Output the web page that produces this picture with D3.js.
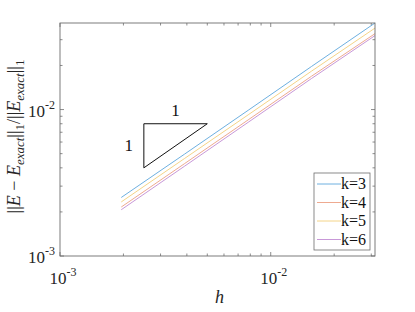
<!DOCTYPE html>
<html>
<head>
<meta charset="utf-8">
<script src="https://cdn.jsdelivr.net/npm/d3@7"></script>
</head>
<body style="margin:0; background:#fff">
<div id="my_dataviz"></div>
<script>
// data
var hValues = [1/512, 1/256, 1/128, 1/64, 1/32];
var seriesNames = ["k=3", "k=4", "k=5", "k=6"];
var errK3 = [0.00251, 0.00497, 0.00988, 0.0197, 0.0390];
var errK4 = [0.00216, 0.00428, 0.00850, 0.0169, 0.0330];
var errK5 = [0.00234, 0.00464, 0.00920, 0.0183, 0.0360];
var errK6 = [0.00207, 0.00411, 0.00818, 0.0163, 0.0320];
var seriesColors = ["#6eb0e0", "#eeaa90", "#f4d488", "#c898d8"];
var triH = [0.0025, 0.005];
var triE = [0.004, 0.008];
var xTicks = [1e-3, 1e-2];
var yTicks = [1e-3, 1e-2];

var series = [errK3, errK4, errK5, errK6];
var serif = "Liberation Serif";

// dimensions
var margin = {top: 23, right: 40, bottom: 56, left: 60},
  width = 415 - margin.left - margin.right,
  height = 312 - margin.top - margin.bottom;

var svg = d3.select("#my_dataviz")
.append("svg")
  .attr("width", 415)
  .attr("height", 312)
.append("g")
  .attr("transform", "translate(" + margin.left + "," + margin.top + ")");

var x = d3.scaleLog()
  .domain([1e-3, 1/32])
  .range([0, width]);
var y = d3.scaleLog()
  .domain([1e-3, 0.0390])
  .range([height, 0]);

var axisColor = "#6e6e6e";

// minor + major ticks, drawn inward on all four sides
var xMinor = [], yMinor = [];
[1e-3, 1e-2].forEach(function(dec) {
  for (var m = 1; m <= 9; m++) {
    var v = dec * m;
    if (v >= x.domain()[0] && v <= x.domain()[1] * 1.0001) xMinor.push(v);
    if (v >= y.domain()[0] && v <= y.domain()[1] * 1.0001) yMinor.push(v);
  }
});

var ticks = svg.append("g").attr("stroke", axisColor).attr("stroke-width", 0.8);
xMinor.forEach(function(v) {
  var len = xTicks.indexOf(v) >= 0 ? 4 : 2.5;
  ticks.append("line").attr("x1", x(v)).attr("x2", x(v)).attr("y1", height).attr("y2", height - len);
  ticks.append("line").attr("x1", x(v)).attr("x2", x(v)).attr("y1", 0).attr("y2", len);
});
yMinor.forEach(function(v) {
  var len = yTicks.indexOf(v) >= 0 ? 4 : 2.5;
  ticks.append("line").attr("x1", 0).attr("x2", len).attr("y1", y(v)).attr("y2", y(v));
  ticks.append("line").attr("x1", width).attr("x2", width - len).attr("y1", y(v)).attr("y2", y(v));
});

// lines
var line = d3.line()
  .x(function(d, i) { return x(hValues[i]); })
  .y(function(d) { return y(d); });

var drawOrder = [0, 2, 1, 3];
drawOrder.forEach(function(i) {
  svg.append("path")
    .datum(series[i])
    .attr("fill", "none")
    .attr("stroke", seriesColors[i])
    .attr("stroke-width", 1)
    .attr("d", line);
});

// slope triangle
svg.append("path")
  .attr("d", "M" + x(triH[0]) + "," + y(triE[0]) +
             "L" + x(triH[0]) + "," + y(triE[1]) +
             "L" + x(triH[1]) + "," + y(triE[1]) + "Z")
  .attr("fill", "none")
  .attr("stroke", "#111")
  .attr("stroke-width", 1);

function txt(parent) {
  return parent.append("text").attr("font-family", serif);
}

txt(svg)
  .attr("x", (x(triH[0]) + x(triH[1])) / 2)
  .attr("y", y(triE[1]) - 8)
  .attr("text-anchor", "middle")
  .attr("fill", "#111")
  .attr("font-size", 17)
  .text("1");
txt(svg)
  .attr("x", x(triH[0]) - 15)
  .attr("y", (y(triE[0]) + y(triE[1])) / 2 + 5)
  .attr("text-anchor", "middle")
  .attr("fill", "#111")
  .attr("font-size", 17)
  .text("1");

// box
svg.append("rect")
  .attr("width", width).attr("height", height)
  .attr("fill", "none")
  .attr("stroke", axisColor)
  .attr("stroke-width", 0.9);

// tick labels
function powLabel(sel, v) {
  var e = Math.round(Math.log10(v));
  sel.append("tspan").text("10");
  sel.append("tspan").attr("dy", -8).attr("font-size", 12).text(e < 0 ? "-" + (-e) : e);
}
xTicks.forEach(function(v) {
  var t = txt(svg)
    .attr("x", x(v) + 3)
    .attr("y", height + 28)
    .attr("text-anchor", "middle")
    .attr("fill", "#262626")
    .attr("font-size", 17);
  powLabel(t, v);
});
yTicks.forEach(function(v) {
  var t = txt(svg)
    .attr("x", -5)
    .attr("y", y(v) + 7)
    .attr("text-anchor", "end")
    .attr("fill", "#262626")
    .attr("font-size", 17);
  powLabel(t, v);
});

// axis labels
txt(svg)
  .attr("x", width / 2 + 2)
  .attr("y", height + 47)
  .attr("text-anchor", "middle")
  .attr("fill", "#262626")
  .attr("font-size", 18)
  .attr("font-style", "italic")
  .text("h");

var yl = txt(svg)
  .attr("transform", "translate(" + (-40) + "," + (height / 2 - 3) + ") rotate(-90)")
  .attr("text-anchor", "middle")
  .attr("fill", "#262626")
  .attr("font-size", 18);
yl.append("tspan").text("||");
yl.append("tspan").attr("font-style", "italic").text("E");
yl.append("tspan").text(" \u2212 ");
yl.append("tspan").attr("font-style", "italic").text("E");
yl.append("tspan").attr("dy", 4).attr("font-size", 13).attr("font-style", "italic").text("exact");
yl.append("tspan").attr("dy", -4).text("||");
yl.append("tspan").attr("dy", 4).attr("font-size", 13).text("1");
yl.append("tspan").attr("dy", -4).text("/||");
yl.append("tspan").attr("font-style", "italic").text("E");
yl.append("tspan").attr("dy", 4).attr("font-size", 13).attr("font-style", "italic").text("exact");
yl.append("tspan").attr("dy", -4).text("||");
yl.append("tspan").attr("dy", 4).attr("font-size", 13).text("1");

// legend
var lg = svg.append("g").attr("transform", "translate(" + (width - 61) + "," + (height - 83) + ")");
lg.append("rect")
  .attr("width", 56).attr("height", 77)
  .attr("fill", "#fff")
  .attr("stroke", axisColor)
  .attr("stroke-width", 0.8);
seriesNames.forEach(function(name, i) {
  var yy = 11 + i * 18.5;
  lg.append("line")
    .attr("x1", 3).attr("x2", 27)
    .attr("y1", yy).attr("y2", yy)
    .attr("stroke", seriesColors[i])
    .attr("stroke-width", 1);
  txt(lg)
    .attr("x", 27)
    .attr("y", yy + 5)
    .attr("fill", "#111")
    .attr("font-size", 16)
    .text(name);
});
</script>
</body>
</html>
